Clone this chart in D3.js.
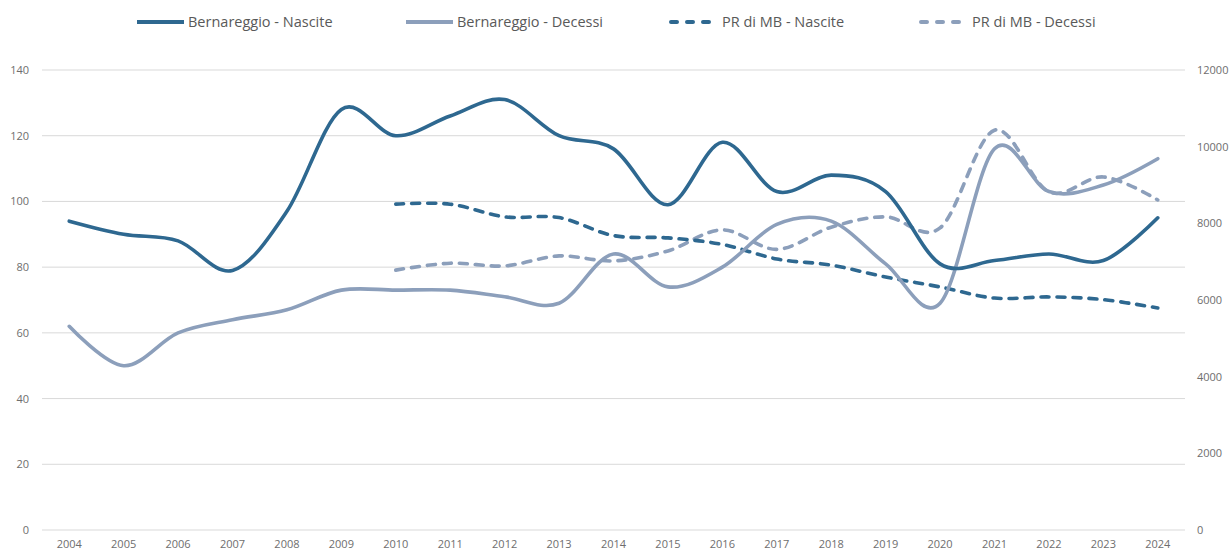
<!DOCTYPE html>
<html>
<head>
<meta charset="utf-8">
<script src="https://cdn.jsdelivr.net/npm/d3@7"></script>
<style>
  body { margin: 0; background: #fff; }
  svg { display: block; font-family: "Open Sans", "Noto Sans", sans-serif; }
</style>
</head>
<body>
<svg id="chart" width="1230" height="552"></svg>
<script>
const years = ["2004","2005","2006","2007","2008","2009","2010","2011","2012","2013","2014","2015","2016","2017","2018","2019","2020","2021","2022","2023","2024"];
const bernNascite = [94, 90, 88, 79, 97, 128, 120, 126, 131, 120, 116, 99, 118, 103, 108, 103, 81, 82, 84, 82, 95];
const bernDecessi = [62, 50, 60, 64, 67, 73, 73, 73, 71, 69, 84, 74, 80, 93, 94, 81, 69, 116, 103, 105, 113];
const prNascite = [null, null, null, null, null, null, 8500, 8500, 8170, 8150, 7680, 7620, 7450, 7070, 6910, 6600, 6340, 6050, 6080, 6010, 5790];
const prDecessi = [null, null, null, null, null, null, 6780, 6960, 6890, 7150, 7020, 7280, 7830, 7320, 7900, 8170, 7880, 10430, 8820, 9210, 8610];
const leftTicks = [0, 20, 40, 60, 80, 100, 120, 140];
const rightTicks = [0, 2000, 4000, 6000, 8000, 10000, 12000];

const seriesNames = ["Bernareggio - Nascite", "Bernareggio - Decessi", "PR di MB - Nascite", "PR di MB - Decessi"];
const dark = "#2e6890", light = "#8c9fbb";

const svg = d3.select("#chart");
const margin = {left: 42, right: 45, top: 70, bottom: 22};
const W = 1230, H = 552;
const x = d3.scaleBand().domain(years).range([margin.left, W - margin.right]);
const yL = d3.scaleLinear().domain([0, 140]).range([H - margin.bottom, margin.top]);
const yR = d3.scaleLinear().domain([0, 12000]).range([H - margin.bottom, margin.top]);

// gridlines
svg.append("g").selectAll("line").data(leftTicks).join("line")
  .attr("x1", margin.left).attr("x2", W - margin.right)
  .attr("y1", d => yL(d)).attr("y2", d => yL(d))
  .attr("stroke", "#d9d9d9").attr("stroke-width", 1);

// left axis
const gl = svg.append("g").attr("transform", `translate(${margin.left},0)`)
  .call(d3.axisLeft(yL).tickValues(leftTicks).tickSize(0).tickPadding(13));
gl.select(".domain").remove();
gl.selectAll("text").attr("fill", "#6e6e6e").style("font-size", "11px").style("font-family", "'Open Sans', sans-serif");

// right axis
const gr = svg.append("g").attr("transform", `translate(${W - margin.right},0)`)
  .call(d3.axisRight(yR).tickValues(rightTicks).tickFormat(d3.format("d")).tickSize(0).tickPadding(12));
gr.select(".domain").remove();
gr.selectAll("text").attr("fill", "#6e6e6e").style("font-size", "11px").style("font-family", "'Open Sans', sans-serif");

// bottom axis
const gb = svg.append("g").attr("transform", `translate(0,${H - margin.bottom})`)
  .call(d3.axisBottom(x).tickSize(0).tickPadding(10));
gb.select(".domain").remove();
gb.selectAll("text").attr("fill", "#6e6e6e").style("font-size", "11px").style("font-family", "'Open Sans', sans-serif");

const cx = (i) => x(years[i]) + x.bandwidth() / 2;
const curve = d3.curveCatmullRom.alpha(0);

function drawLine(vals, scale, color, dashed) {
  const line = d3.line()
    .defined(d => d != null)
    .x((d, i) => cx(i))
    .y(d => scale(d))
    .curve(curve);
  svg.append("path").datum(vals)
    .attr("d", line)
    .attr("fill", "none")
    .attr("stroke", color)
    .attr("stroke-width", 3.6)
    .attr("stroke-linecap", "round")
    .attr("stroke-linejoin", "round")
    .attr("stroke-dasharray", dashed ? "8,8" : null);
}

drawLine(prDecessi, yR, light, true);
drawLine(prNascite, yR, dark, true);
drawLine(bernDecessi, yL, light, false);
drawLine(bernNascite, yL, dark, false);

// legend
const legendItems = [
  {name: seriesNames[0], color: dark, dashed: false, x: 137},
  {name: seriesNames[1], color: light, dashed: false, x: 406},
  {name: seriesNames[2], color: dark, dashed: true, x: 671},
  {name: seriesNames[3], color: light, dashed: true, x: 921}
];
const lg = svg.append("g");
legendItems.forEach(it => {
  lg.append("line").attr("x1", it.x).attr("x2", it.x + 47).attr("y1", 22).attr("y2", 22)
    .attr("stroke", it.color).attr("stroke-width", 4).attr("stroke-linecap", it.dashed ? "round" : "butt")
    .attr("stroke-dasharray", it.dashed ? "6,10" : null);
  lg.append("text").attr("x", it.x + 51).attr("y", 22).attr("dy", "0.35em")
    .attr("fill", "#595959").style("font-size", "14.5px").text(it.name);
});
</script>
</body>
</html>
